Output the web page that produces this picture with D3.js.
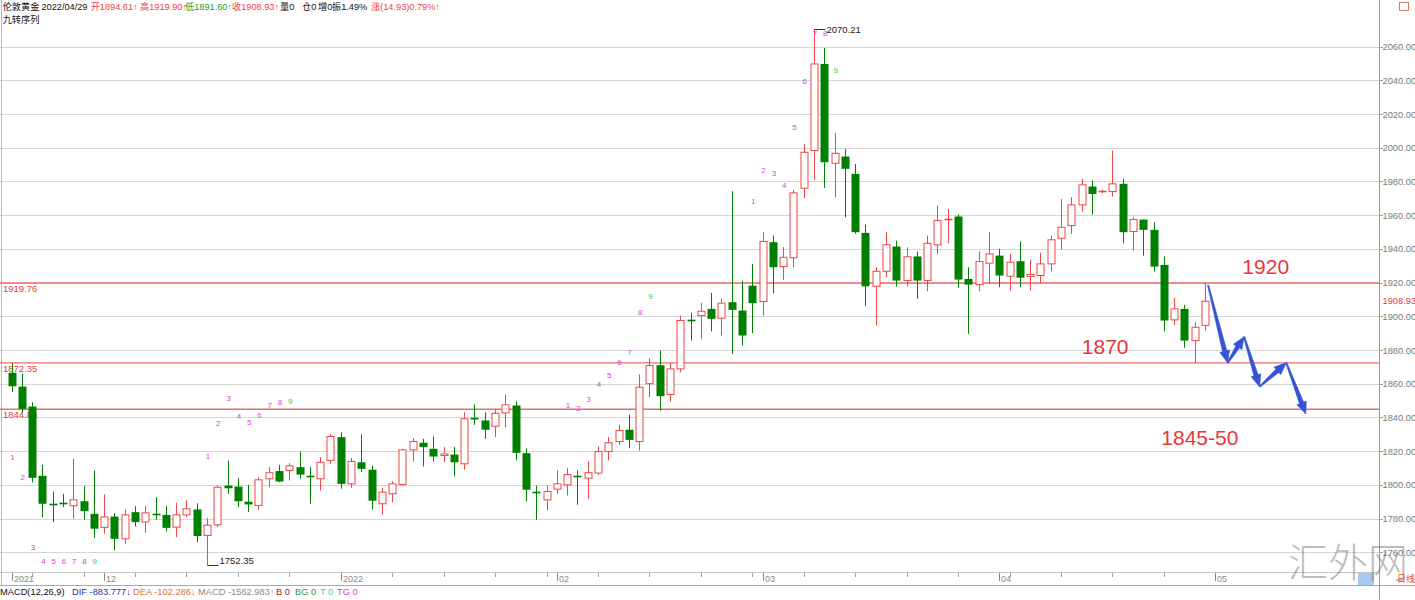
<!DOCTYPE html>
<html><head><meta charset="utf-8">
<script src="https://cdn.jsdelivr.net/npm/d3@7"></script>
<style>
body{margin:0;background:#fff;overflow:hidden}
svg{display:block}
text{font-family:"Liberation Sans","Noto Sans CJK SC",sans-serif}
</style>
</head><body>
<svg id="chart" width="1415" height="600"></svg>
<script>
// ---------- data ----------
const opens  = [1866.5,1858.3,1846.5,1805.4,1788.8,1789.0,1787.6,1790.3,1782.8,1774.8,
1781.2,1768,1783.8,1778,1783,1782.2,1774.9,1782.2,1785.4,1770,
1776.3,1799.6,1799,1790,1787.8,1803.6,1808.2,1808.5,1810.5,1805.3,
1803.6,1814.5,1828.3,1800.6,1813.4,1809,1788.8,1794.7,1800.2,1820.8,
1825,1821.4,1817.4,1818,1812.5,1839.8,1838.2,1834.8,1842.7,1847.1,
1818.8,1796,1791.1,1797.5,1800,1805.5,1804,1807,1819.8,1825.7,
1832.7,1825.7,1860,1871,1853.6,1868.8,1897.8,1900.4,1904.4,1898.9,
1908.4,1903.4,1918.2,1908.8,1944,1929.5,1934.7,1976,1998.3,2049.7,
1990.8,1994.8,1984.5,1949.5,1917.8,1926.7,1941.4,1921.2,1935.5,1921.2,
1942.4,1957.2,1959.2,1922.2,1918.8,1931.5,1936,1923.8,1932.7,1923.6,
1924.2,1931.1,1946.3,1953.8,1966.1,1977,1973.8,1974,1978.6,1950.3,
1957.4,1951.3,1930.5,1897.9,1904.4,1885.6,1894.61];
const highs  = [1872.35,1866,1849,1811.9,1796,1794.7,1815.5,1799.2,1808.5,1794.3,
1783.2,1785.4,1787.4,1787.6,1792.7,1787.6,1789.4,1791.1,1789.1,1780.3,
1799.6,1814.4,1804,1800,1804.6,1810.5,1811.9,1812.9,1819.8,1810.5,
1816.4,1830.3,1831.2,1816,1829.9,1811.5,1798.3,1802.2,1821.4,1827.7,
1827.3,1828.7,1822.4,1822.4,1843.1,1847.7,1843.1,1845.1,1853.6,1849.6,
1821.7,1799.6,1799.6,1808.5,1810.1,1808.5,1814,1822.8,1828.3,1835.6,
1841.6,1865.5,1875,1879.7,1872.2,1900.4,1902,1908,1913.9,1910.4,
1974.2,1921.2,1931.1,1949.9,1947.9,1941,1975,2002.3,2070.21,2059.2,
2008.8,1999.3,1990.4,1954.4,1929.1,1949.9,1944.9,1941,1938.4,1947.9,
1965.7,1963.7,1960.4,1929.1,1938.6,1949.9,1940,1937,1944.5,1933.5,
1937.6,1947.9,1969.6,1970.6,1981.5,1980.5,1975.2,1998.3,1981.5,1958.8,
1957.4,1955.8,1935.5,1910.9,1906.8,1896.5,1919.9];
const lows   = [1855,1843,1801.5,1780.8,1778,1786.8,1780,1779.3,1768.6,1771,
1761,1765,1775.3,1771.6,1779.3,1772.5,1769,1780.8,1766,1752.35,
1775,1794.7,1786.8,1783.8,1785.2,1798.6,1801.6,1802.6,1803.6,1788.8,
1796.7,1812.5,1797.7,1798.3,1807.5,1785.4,1782.4,1789.7,1799.6,1813.9,
1810.9,1813.9,1813.4,1805,1809,1835.6,1827.3,1828.3,1834.2,1814.5,
1790.3,1779.3,1784.8,1794.7,1793.7,1788.2,1791.7,1805.6,1814.5,1823.8,
1821.7,1820.4,1852,1844,1849.4,1866.8,1885.6,1886.6,1891.1,1888.6,
1877.7,1882.7,1890,1900.4,1913.7,1921.6,1929.1,1970,1981,1976.2,
1970.6,1958.8,1949,1906,1894.5,1923.2,1917.7,1917.7,1910.4,1914.9,
1937,1943.3,1917,1889.6,1914.9,1919.3,1917.3,1915.3,1917.3,1915.3,
1919.6,1926.7,1939.6,1948.9,1962.1,1960.4,1973,1971,1943.3,1939,
1936,1926.5,1891.1,1894.9,1881.3,1872.2,1891.6];
const closes = [1858.5,1845.1,1804.2,1788.8,1788.4,1788.8,1791.1,1784.4,1774,1781,
1768,1782.2,1777.9,1783.4,1782.6,1774.5,1782.2,1785.8,1769.6,1776.1,
1798.6,1798,1790.3,1788.4,1803,1807.2,1802,1811.3,1806.1,1805,
1813.4,1828.7,1800.6,1813.9,1809.5,1790.6,1795.7,1800.6,1820.8,1825.7,
1822.4,1816.8,1818.4,1813.4,1839.2,1838.8,1832.7,1842.5,1847.5,1819,
1797.1,1795.5,1796.1,1800.6,1806.1,1805.1,1807.2,1819.8,1825,1832.2,
1826.7,1857.9,1870.8,1852.6,1868.8,1897.5,1897.5,1903,1898.5,1907.8,
1903.8,1888.6,1907.8,1944.4,1929.1,1935,1973.2,1997.3,2049.7,1991.4,
1996.7,1987.5,1949.9,1917.8,1926.7,1942.5,1921.2,1935.3,1921.2,1943.3,
1956.8,1957.6,1921.8,1918.8,1932.5,1937,1924.2,1932.1,1922.9,1924.8,
1931.1,1945.4,1952.8,1966.1,1978,1972.6,1974.2,1978.6,1949.9,1957.4,
1951.3,1929.5,1897.5,1904.4,1885.6,1893.5,1908.93];

const yTicks = [1760,1780,1800,1820,1840,1860,1880,1900,1920,1940,1960,1980,2000,2020,2040,2060];
const levelValues = [1919.76, 1872.35, 1844.86];
const levelLabels = ["1919.76", "1872.35", "1844.86"];
const tdStarts = [0, 19, 54, 72];
const tdDirs   = ["down", "up", "up", "up"];
const extremeIdx = [78, 19];
const extremeLabels = ["2070.21", "1752.35"];
const forecastPath = [[116.3,1918.5],[118.2,1872.4],[119.8,1887.9],[121.3,1858.2],[123.9,1872.4],[125.8,1842]];
const zoneLabels = ["1920", "1870", "1845-50"];
const zoneIdx = [121.9, 106.3, 115.5];
const zonePrice = [1929.4, 1881.9, 1828.4];
const lastClose = 1908.93;

// ---------- layout ----------
const W = 1415, H = 600;
const axisX = 1379;
const svg = d3.select("#chart");
const x = d3.scaleLinear().domain([0, 116]).range([11.5, 1205]);
const y = d3.scaleLinear().domain([1760, 2060]).range([552.3, 46.6]);
const UP = "#f04646", DOWN = "#008000";

// grid
svg.append("g").selectAll("line").data(yTicks).join("line")
  .attr("x1", 0).attr("x2", axisX)
  .attr("y1", d => Math.round(y(d)) + 0.5).attr("y2", d => Math.round(y(d)) + 0.5)
  .attr("stroke", "#d6d6d6").attr("stroke-width", 1);

// frame
svg.append("line").attr("x1", 1.5).attr("x2", 1.5).attr("y1", 0).attr("y2", 586).attr("stroke", "#b8b8b8");
svg.append("line").attr("x1", axisX + 0.5).attr("x2", axisX + 0.5).attr("y1", 0).attr("y2", H).attr("stroke", "#9a9a9a");

// level lines
svg.append("g").selectAll("line").data(levelValues).join("line")
  .attr("x1", 0).attr("x2", axisX)
  .attr("y1", d => y(d)).attr("y2", d => y(d))
  .attr("stroke", "#ee6c6c").attr("stroke-width", 1.4);
svg.append("g").selectAll("text").data(levelValues).join("text")
  .attr("x", 3).attr("y", d => y(d) + 5.5)
  .attr("dominant-baseline", "central")
  .attr("font-size", 9.5).attr("fill", "#e83a3a")
  .text((d, i) => levelLabels[i]);

// candles
const idx = d3.range(opens.length);
const cg = svg.append("g");
cg.selectAll("line.wick").data(idx).join("line")
  .attr("class", "wick")
  .attr("x1", i => Math.round(x(i)) + 0.5).attr("x2", i => Math.round(x(i)) + 0.5)
  .attr("y1", i => y(highs[i])).attr("y2", i => y(lows[i]))
  .attr("stroke", i => closes[i] >= opens[i] ? UP : DOWN).attr("stroke-width", 1);
idx.forEach(i => {
  const up = closes[i] >= opens[i];
  const xc = Math.round(x(i));
  const top = y(Math.max(opens[i], closes[i]));
  const bot = y(Math.min(opens[i], closes[i]));
  const h = bot - top;
  if (h < 1.2) {
    cg.append("line").attr("x1", xc - 3.5).attr("x2", xc + 4.5)
      .attr("y1", Math.round(top) + 0.5).attr("y2", Math.round(top) + 0.5)
      .attr("stroke", up ? UP : DOWN).attr("stroke-width", 1.6);
  } else if (up) {
    cg.append("rect").attr("x", xc - 3).attr("y", top).attr("width", 7).attr("height", h)
      .attr("fill", "#fff").attr("stroke", UP).attr("stroke-width", 1);
  } else {
    cg.append("rect").attr("x", xc - 3.5).attr("y", top).attr("width", 8).attr("height", h)
      .attr("fill", DOWN);
  }
});

// TD sequential (九转序列) labels
const tg = svg.append("g");
tdStarts.forEach((s, k) => {
  for (let n = 0; n < 9; n++) {
    const i = s + n;
    const yy = tdDirs[k] === "down" ? Math.min(y(lows[i]) + 65, 561) : Math.max(y(highs[i]) - 62, 33);
    tg.append("text").attr("x", x(i) + 1).attr("y", yy)
      .attr("text-anchor", "middle").attr("dominant-baseline", "central")
      .attr("font-size", 8).attr("fill", n === 8 ? "#3cc83c" : "#e040e0")
      .text(n + 1);
  }
});

// extreme annotations
extremeIdx.forEach((i, k) => {
  const isHigh = k === 0;
  const v = isHigh ? highs[i] : lows[i];
  const yy = Math.round(y(v)) + 0.5;
  const x0 = Math.round(x(i)) + 0.5;
  svg.append("line").attr("x1", x0).attr("x2", x0 + 11).attr("y1", yy).attr("y2", yy).attr("stroke", "#333").attr("stroke-width", 1);
  svg.append("text").attr("x", x0 + 12).attr("y", isHigh ? yy : Math.min(yy, 560.5))
    .attr("dominant-baseline", "central").attr("font-size", 9.5).attr("fill", "#222")
    .text(extremeLabels[k]);
});

// forecast arrows
function arrowPoly(x1, y1, x2, y2) {
  const dx = x2 - x1, dy = y2 - y1, L = Math.hypot(dx, dy);
  const ux = dx / L, uy = dy / L, nx = -uy, ny = ux;
  const hl = Math.min(12, L * 0.45), w0 = 0.6, w1 = 2.2, hw = 5;
  const bx = x2 - ux * hl, by = y2 - uy * hl;
  return [
    [x1 + nx * w0, y1 + ny * w0], [bx + nx * w1, by + ny * w1], [bx + nx * hw, by + ny * hw],
    [x2, y2],
    [bx - nx * hw, by - ny * hw], [bx - nx * w1, by - ny * w1], [x1 - nx * w0, y1 - ny * w0]
  ];
}
const ag = svg.append("g");
for (let k = 0; k < forecastPath.length - 1; k++) {
  const [i1, p1] = forecastPath[k], [i2, p2] = forecastPath[k + 1];
  ag.append("polygon").attr("points", arrowPoly(x(i1), y(p1), x(i2), y(p2)).map(p => p.join(",")).join(" "))
    .attr("fill", "#3453d6").attr("stroke", "#3453d6").attr("stroke-width", 0.6).attr("stroke-linejoin", "round");
}

// zone labels
svg.append("g").selectAll("text").data(zoneLabels).join("text")
  .attr("x", (d, i) => x(zoneIdx[i])).attr("y", (d, i) => y(zonePrice[i]))
  .attr("text-anchor", "middle").attr("dominant-baseline", "central")
  .attr("font-family", "'Noto Sans','Open Sans',sans-serif")
  .attr("font-size", 21).attr("fill", "#e5383b")
  .text(d => d);

// right axis
const ra = svg.append("g");
ra.selectAll("line").data(yTicks).join("line")
  .attr("x1", axisX).attr("x2", axisX + 4)
  .attr("y1", d => Math.round(y(d)) + 0.5).attr("y2", d => Math.round(y(d)) + 0.5).attr("stroke", "#9a9a9a");
ra.selectAll("text").data(yTicks).join("text")
  .attr("x", axisX + 3.5).attr("y", d => y(d) + 0.5).attr("dominant-baseline", "central")
  .attr("font-size", 9.3).attr("fill", "#7a7a7a").text(d => d3.format(".2f")(d));
svg.append("text").attr("x", axisX + 3.5).attr("y", y(lastClose)).attr("dominant-baseline", "central")
  .attr("font-size", 9.3).attr("fill", "#e83a3a").text(d3.format(".2f")(lastClose));
svg.append("rect").attr("x", 1399.5).attr("y", 2.5).attr("width", 9).attr("height", 8)
  .attr("fill", "none").attr("stroke", "#d08060");

// x axis (trading days)
const tradeDays = d3.timeDay.range(new Date(2021, 10, 18), new Date(2022, 4, 3))
  .filter(d => d.getDay() !== 0 && d.getDay() !== 6);
const xa = svg.append("g");
xa.append("line").attr("x1", 0).attr("x2", axisX).attr("y1", 572.5).attr("y2", 572.5).attr("stroke", "#c8c8c8");
xa.append("line").attr("x1", 0).attr("x2", W).attr("y1", 585.5).attr("y2", 585.5).attr("stroke", "#a8a8a8");
tradeDays.forEach((d, i) => {
  const monthStart = i === 0 || d.getMonth() !== tradeDays[i - 1].getMonth();
  const xx = Math.round(x(i)) + 0.5;
  if (monthStart) {
    xa.append("line").attr("x1", xx).attr("x2", xx).attr("y1", 573).attr("y2", 581).attr("stroke", "#8a8a8a");
    const lab = (i === 0 || d.getMonth() === 0) ? String(d.getFullYear()) : d3.format("02")(d.getMonth() + 1);
    xa.append("text").attr("x", xx + 1.5).attr("y", 579).attr("dominant-baseline", "central")
      .attr("font-size", 9).attr("fill", "#8a8a8a").text(lab);
  } else if (d.getDay() === 1) {
    xa.append("line").attr("x1", xx).attr("x2", xx).attr("y1", 573).attr("y2", 577).attr("stroke", "#9a9a9a");
  }
});
svg.append("rect").attr("x", 1358).attr("y", 573).attr("width", 16).attr("height", 12).attr("fill", "#a9c8f0");

// watermark
svg.append("text").attr("x", 1348).attr("y", 563).attr("text-anchor", "middle").attr("dominant-baseline", "central")
  .attr("font-family", "'Noto Sans CJK SC',sans-serif").attr("font-weight", 300)
  .attr("font-size", 40).attr("fill", "#7a7a7a").attr("fill-opacity", 0.5).text("汇外网");

svg.append("text").attr("x", 1397).attr("y", 579).attr("dominant-baseline", "central")
  .attr("font-size", 9).attr("fill", "#e05030").text("日线");

// header
const hdr = [
  ["伦敦黄金", 2.7, "#111"], ["2022/04/29", 41.5, "#111"], ["开1894.61↑", 90.7, "#f04040"],
  ["高1919.90↑", 140, "#f04040"], ["低1891.60↑", 185, "#1f9a1f"], ["收1908.93↑", 232, "#f04040"],
  ["量0", 280, "#111"], ["仓0", 302, "#111"], ["增0", 318, "#111"], ["振1.49%", 332, "#111"],
  ["涨(14.93)0.79%↑", 371, "#f04040"]
];
svg.append("g").selectAll("text").data(hdr).join("text")
  .attr("x", d => d[1]).attr("y", 7).attr("dominant-baseline", "central")
  .attr("font-size", 9.2).attr("fill", d => d[2]).text(d => d[0]);
svg.append("text").attr("x", 2.7).attr("y", 19.5).attr("dominant-baseline", "central")
  .attr("font-size", 9.2).attr("fill", "#111").text("九转序列");

// MACD legend line
const macd = [
  ["MACD(12,26,9)", 0, "#111"], ["DIF -883.777↓", 72, "#2f2fa0"], ["DEA -102.286↓", 133, "#e0703a"],
  ["MACD -1562.983↑", 198, "#8a8a8a"], ["B 0", 276, "#a02020"], ["BG 0", 295, "#3a9a3a"],
  ["T 0", 320, "#30c8d0"], ["TG 0", 337, "#d040d0"]
];
svg.append("g").selectAll("text").data(macd).join("text")
  .attr("x", d => d[1]).attr("y", 591.5).attr("dominant-baseline", "central")
  .attr("font-size", 9.3).attr("fill", d => d[2]).text(d => d[0]);
</script>
</body></html>
